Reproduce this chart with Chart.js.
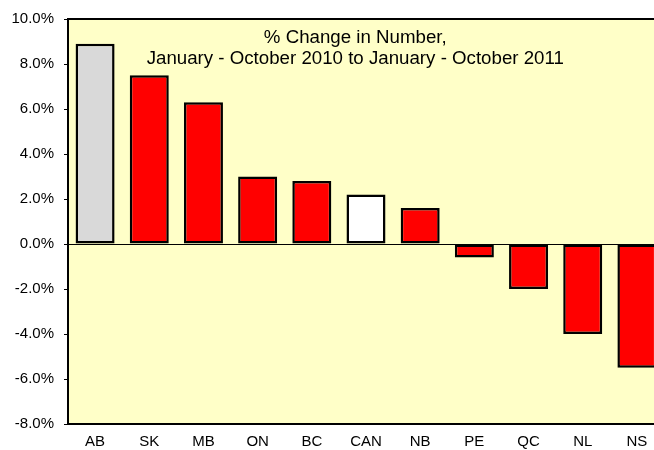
<!DOCTYPE html>
<html>
<head>
<meta charset="utf-8">
<script src="https://cdn.jsdelivr.net/npm/chart.js@4/dist/chart.umd.min.js"></script>
<style>
  html, body { margin: 0; padding: 0; background: #fff; overflow: hidden; }
  #wrap { position: absolute; left: 0; top: 0; width: 664px; height: 450px; }
</style>
</head>
<body>
<div id="wrap"><canvas id="myChart" width="664" height="450"></canvas></div>
<script>
'use strict';

// chart data
var provinces = ['AB', 'SK', 'MB', 'ON', 'BC', 'CAN', 'NB', 'PE', 'QC', 'NL', 'NS'];
var pctChange = [8.9, 7.5, 6.3, 3.0, 2.8, 2.2, 1.6, -0.6, -2.0, -4.0, -5.5];
var titleLines = ['% Change in Number,', 'January - October 2010 to January - October 2011'];
var yMin = -8;
var yMax = 10;
var yStep = 2;

var fontName = '"Liberation Sans", Arial, sans-serif';

function barColour(name) {
  if (name === 'AB') return '#d9d9d9';
  if (name === 'CAN') return '#ffffff';
  return '#ff0000';
}

// yellow plot background, border and the title inside the plot
var plotFrame = {
  id: 'plotFrame',
  beforeDraw: function (chart) {
    var a = chart.chartArea;
    var ctx = chart.ctx;
    ctx.save();
    ctx.fillStyle = '#ffffc8';
    ctx.fillRect(a.left, a.top, a.right - a.left, a.bottom - a.top);
    ctx.restore();
  },
  afterDraw: function (chart) {
    var a = chart.chartArea;
    var ctx = chart.ctx;
    ctx.save();
    ctx.strokeStyle = '#000';
    ctx.lineWidth = 2;
    ctx.strokeRect(a.left, a.top, a.right - a.left, a.bottom - a.top);
    ctx.fillStyle = '#000';
    ctx.font = '18.7px ' + fontName;
    ctx.textAlign = 'center';
    ctx.textBaseline = 'middle';
    var cx = a.left + (a.right - a.left) * 0.482;
    ctx.fillText(titleLines[0], cx, a.top + 19);
    ctx.fillText(titleLines[1], cx, a.top + 40);
    ctx.restore();
  }
};

var ctx = document.getElementById('myChart').getContext('2d');
var chart = new Chart(ctx, {
  type: 'bar',
  data: {
    labels: provinces,
    datasets: [{
      data: pctChange,
      backgroundColor: provinces.map(barColour),
      borderColor: '#000',
      borderWidth: 2.5,
      borderSkipped: false,
      barPercentage: 0.72,
      categoryPercentage: 1
    }]
  },
  options: {
    responsive: false,
    animation: false,
    layout: { padding: { top: 11, left: 0, right: 0, bottom: 0 } },
    plugins: {
      legend: { display: false },
      title: { display: false },
      tooltip: { enabled: false }
    },
    scales: {
      x: {
        grid: { display: false, drawTicks: false },
        border: { display: false },
        ticks: {
          color: '#000',
          padding: 9,
          font: { family: fontName, size: 15 }
        },
        afterFit: function (scale) { scale.height = 26; }
      },
      y: {
        min: yMin,
        max: yMax,
        border: { display: false },
        grid: {
          drawOnChartArea: true,
          tickLength: 4,
          tickColor: '#000',
          lineWidth: 1,
          color: function (c) {
            return c.tick && c.tick.value === 0 ? '#000' : 'rgba(0,0,0,0)';
          }
        },
        ticks: {
          stepSize: yStep,
          color: '#000',
          padding: 10,
          font: { family: fontName, size: 15 },
          callback: function (v) { return v.toFixed(1) + '%'; }
        },
        afterFit: function (scale) { scale.width = 68; }
      }
    }
  },
  plugins: [plotFrame]
});
</script>
</body>
</html>
